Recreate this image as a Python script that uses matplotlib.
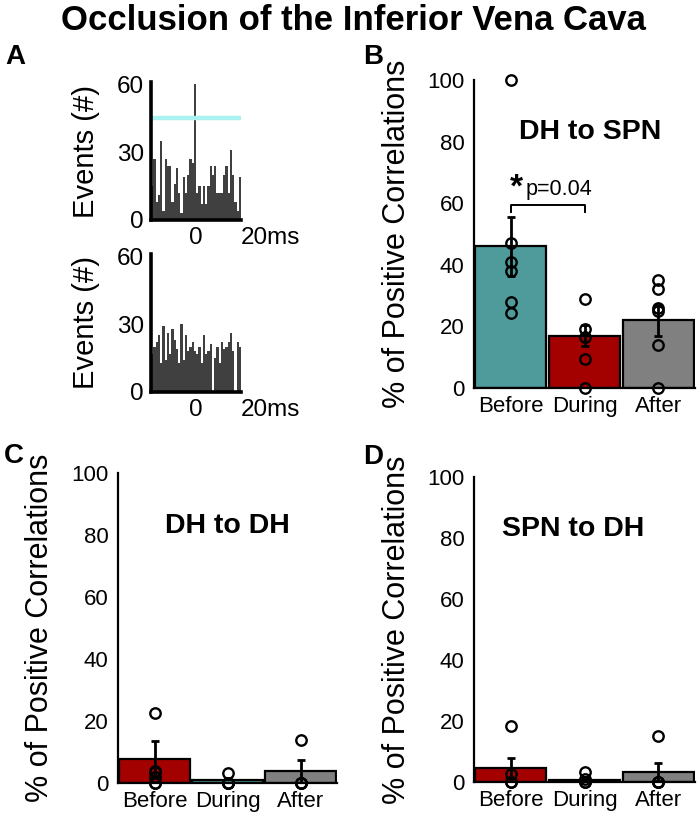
import matplotlib
matplotlib.use("Agg")
import matplotlib.pyplot as plt
import numpy as np

plt.rcParams['font.family'] = ['Liberation Sans', 'DejaVu Sans']

# ---- data ----
bin_edges_ms = np.arange(-20, 21, 1)
hist_top = [15, 27, 8, 11, 35, 4, 27, 24, 24, 8, 16, 23, 12, 3, 19, 12, 20, 27, 25, 60,
            12, 15, 7, 15, 7, 15, 24, 20, 24, 12, 12, 12, 20, 24, 12, 31, 20, 8, 4, 19]
hist_bottom = [17, 20, 22, 25, 13, 29, 14, 26, 17, 28, 23, 19, 13, 30, 14, 25, 18, 20, 22, 18,
               17, 20, 13, 25, 17, 18, 21, 0, 15, 20, 13, 22, 19, 20, 22, 26, 18, 0, 22, 20]
threshold_top = 45

conditions = ['Before', 'During', 'After']

dh_spn_mean = [46, 17, 22]
dh_spn_sem = [9.5, 3.5, 5]
dh_spn_points = [[100, 47, 41, 38, 28, 24.5], [29, 19, 16.5, 9.5, 0], [35, 32, 26, 25, 14, 0]]

dh_dh_mean = [7.8, 1.0, 3.8]
dh_dh_sem = [5.6, 0, 3.7]
dh_dh_points = [[22.7, 4, 3.5, 2, 0, 0], [3.2, 0, 0, 0], [14, 0, 0, 0]]

spn_dh_mean = [4.7, 0.5, 3.2]
spn_dh_sem = [3.3, 0, 3.0]
spn_dh_points = [[18.4, 2.7, 0, 0], [3.3, 1, 0, 0], [15, 0, 0, 0]]

TEAL = '#4f9b9b'
RED = '#a30000'
GRAY = '#808080'

W, H = 700, 827
fig = plt.figure(figsize=(W / 100, H / 100), dpi=100)


def box(left, top, right, bottom):
    return [left / W, 1 - bottom / H, (right - left) / W, (bottom - top) / H]


def histogram(rect, values, threshold=None):
    ax = fig.add_axes(box(*rect))
    ax.stairs(values, bin_edges_ms, fill=True, color='#404040', linewidth=0)
    if threshold is not None:
        ax.axhline(threshold, color='#aaf2f2', lw=3.2, xmin=0.03, xmax=1.0)
    ax.set_xlim(-20, 20)
    ax.set_ylim(0, 61)
    ax.set_yticks([0, 30, 60])
    ax.set_xticks([0, 20], ['0', '20ms'])
    ax.get_xticklabels()[1].set_ha('left')
    ax.tick_params(length=0, labelsize=17.5, pad=5)
    ax.set_ylabel('Events (#)', fontsize=21)
    ax.yaxis.set_label_coords(-0.57, 0.5)
    for s in ['top', 'right']:
        ax.spines[s].set_visible(False)
    for s in ['left', 'bottom']:
        ax.spines[s].set_linewidth(2.6)
    return ax


def barpanel(rect, means, sems, points, colors, title, title_x, label_x):
    ax = fig.add_axes(box(*rect))
    x = np.arange(len(conditions))
    ax.bar(x, means, width=0.96, color=colors, edgecolor='black', linewidth=1.6, zorder=2)
    for i in range(len(conditions)):
        if sems[i] > 0:
            ax.errorbar(x[i], means[i], yerr=sems[i], color='black', lw=2,
                        capsize=3, capthick=2, zorder=3)
        ax.plot([x[i]] * len(points[i]), points[i], 'o', mfc='none', mec='black',
                mew=1.7, ms=7.5, zorder=4, clip_on=False)
    ax.set_xlim(-0.5, 2.5)
    ax.set_ylim(0, 100)
    ax.set_yticks(range(0, 101, 20))
    ax.set_xticks(x, conditions)
    ax.tick_params(length=0, labelsize=16)
    ax.tick_params(axis='y', pad=7)
    ax.tick_params(axis='x', pad=6)
    ax.set_ylabel('% of Positive Correlations', fontsize=22)
    ax.yaxis.set_label_coords(label_x, 0.5)
    for s in ['top', 'right']:
        ax.spines[s].set_visible(False)
    ax.spines['left'].set_linewidth(1.6)
    ax.spines['bottom'].set_linewidth(1.6)
    ax.text(title_x, 0.83, title, transform=ax.transAxes, ha='center', va='center',
            fontsize=20.5, fontweight='bold')
    return ax


fig.text(353 / W, 1 - 20 / H, 'Occlusion of the Inferior Vena Cava', ha='center', va='center',
         fontsize=25, fontweight='bold')

histogram((151, 82, 241, 220), hist_top, threshold_top)
histogram((151, 254, 241, 392), hist_bottom)

axB = barpanel((474, 80, 695, 388), dh_spn_mean, dh_spn_sem, dh_spn_points,
               [TEAL, RED, GRAY], 'DH to SPN', 0.525, -0.28)
# significance bracket
axB.plot([0, 0, 1, 1], [57, 59.5, 59.5, 57], color='black', lw=1.4)
axB.text(0.07, 65, '*', fontsize=24, fontweight='bold', ha='center', va='center')
axB.text(0.2, 64.5, 'p=0.04', fontsize=15.5, ha='left', va='center')

barpanel((118, 473, 337, 783), dh_dh_mean, dh_dh_sem, dh_dh_points,
         [RED, TEAL, GRAY], 'DH to DH', 0.5, -0.288)
barpanel((474, 477, 695, 782), spn_dh_mean, spn_dh_sem, spn_dh_points,
         [RED, TEAL, GRAY], 'SPN to DH', 0.45, -0.28)

for letter, px, py in [('A', 15, 57), ('B', 373, 57), ('C', 14, 456), ('D', 373, 457)]:
    fig.text(px / W, 1 - py / H, letter, fontsize=20, fontweight='bold', ha='center', va='center')

fig.savefig('out.png', dpi=100)
